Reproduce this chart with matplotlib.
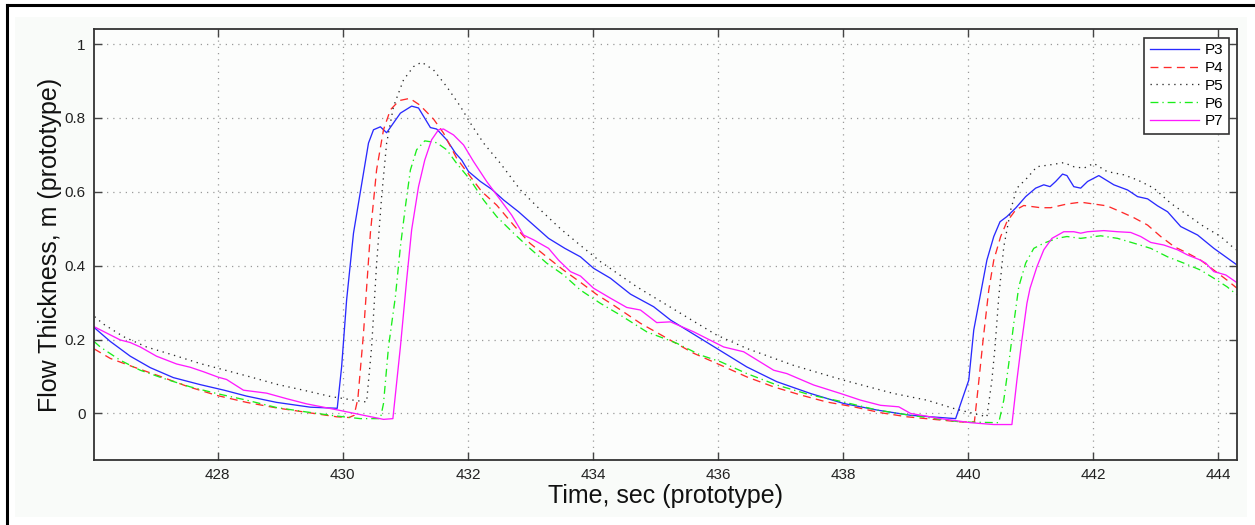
import matplotlib
matplotlib.use("Agg")
import matplotlib.pyplot as plt
from matplotlib.lines import Line2D
from matplotlib.patches import Rectangle

plt.rcParams['font.family'] = ['Liberation Sans', 'DejaVu Sans']

# ---> data (time in s, thickness in m)
t_p3 = [426.02, 426.28, 426.60, 426.92, 427.29, 427.72, 428.10, 428.46, 428.94, 429.48,
        429.91, 429.98, 430.06, 430.17, 430.28, 430.41, 430.49, 430.60, 430.70, 430.92,
        431.10, 431.21, 431.40, 431.50, 431.66, 431.80, 431.90, 432.01, 432.20, 432.38,
        432.57, 432.81, 433.05, 433.29, 433.55, 433.80, 434.01, 434.28, 434.60, 434.97,
        435.24, 435.50, 435.98, 436.46, 436.94, 437.48, 438.01, 438.55, 439.08, 439.80,
        439.90, 440.01, 440.09, 440.20, 440.30, 440.41, 440.51, 440.62, 440.76, 440.92,
        441.08, 441.21, 441.31, 441.40, 441.51, 441.58, 441.69, 441.80, 441.91, 442.09,
        442.33, 442.55, 442.71, 442.87, 443.03, 443.19, 443.40, 443.67, 443.93, 444.30]
p3 = [0.233, 0.195, 0.155, 0.124, 0.097, 0.078, 0.063, 0.047, 0.030, 0.017,
      0.014, 0.126, 0.307, 0.488, 0.600, 0.732, 0.768, 0.776, 0.760, 0.813,
      0.832, 0.827, 0.774, 0.770, 0.741, 0.705, 0.686, 0.655, 0.628, 0.607,
      0.578, 0.546, 0.510, 0.474, 0.447, 0.424, 0.393, 0.366, 0.323, 0.289,
      0.253, 0.226, 0.176, 0.126, 0.086, 0.054, 0.027, 0.009, -0.005, -0.014,
      0.036, 0.090, 0.226, 0.325, 0.415, 0.479, 0.519, 0.533, 0.556, 0.587,
      0.610, 0.619, 0.614, 0.628, 0.648, 0.644, 0.614, 0.610, 0.628, 0.644,
      0.619, 0.605, 0.587, 0.581, 0.562, 0.546, 0.506, 0.483, 0.447, 0.402]

t_p4 = [426.02, 426.28, 426.65, 427.02, 427.50, 427.98, 428.46, 428.94, 429.42, 429.90,
        430.10, 430.18, 430.24, 430.33, 430.44, 430.54, 430.65, 430.76, 430.90, 431.07,
        431.23, 431.45, 431.61, 431.82, 432.04, 432.22, 432.46, 432.73, 432.99, 433.26,
        433.53, 433.80, 434.06, 434.33, 434.76, 435.19, 435.61, 436.04, 436.46, 436.89,
        437.32, 437.74, 438.17, 438.60, 439.02, 439.45, 439.88, 440.10, 440.16, 440.24,
        440.33, 440.41, 440.52, 440.62, 440.76, 440.89, 441.16, 441.32, 441.58, 441.80,
        442.01, 442.22, 442.44, 442.65, 442.87, 443.08, 443.30, 443.51, 443.72, 443.93,
        444.14, 444.30]
p4 = [0.175, 0.149, 0.126, 0.104, 0.074, 0.049, 0.030, 0.015, 0.003, -0.009,
      -0.011, -0.005, 0.040, 0.217, 0.488, 0.660, 0.768, 0.822, 0.847, 0.853,
      0.835, 0.797, 0.759, 0.691, 0.641, 0.601, 0.564, 0.510, 0.461, 0.424,
      0.388, 0.355, 0.322, 0.293, 0.244, 0.203, 0.163, 0.131, 0.099, 0.072,
      0.050, 0.031, 0.018, 0.002, -0.009, -0.016, -0.023, -0.023, 0.070, 0.200,
      0.334, 0.415, 0.479, 0.519, 0.551, 0.563, 0.557, 0.557, 0.567, 0.572,
      0.567, 0.562, 0.546, 0.530, 0.510, 0.479, 0.451, 0.434, 0.415, 0.388,
      0.361, 0.339]

t_p5 = [426.03, 426.17, 426.49, 426.86, 427.29, 427.72, 428.10, 428.52, 428.94, 429.37,
        429.80, 430.17, 430.38, 430.46, 430.54, 430.62, 430.70, 430.81, 430.97, 431.13,
        431.26, 431.45, 431.66, 431.88, 432.04, 432.25, 432.52, 432.84, 433.16, 433.48,
        433.80, 434.12, 434.70, 435.45, 435.98, 436.46, 437.21, 438.01, 438.81, 439.34,
        439.80, 440.30, 440.38, 440.43, 440.49, 440.57, 440.68, 440.78, 440.94, 441.10,
        441.31, 441.53, 441.69, 441.85, 442.01, 442.22, 442.49, 442.71, 442.97, 443.24,
        443.51, 443.77, 444.04, 444.28]
p5 = [0.262, 0.242, 0.208, 0.180, 0.158, 0.135, 0.118, 0.099, 0.079, 0.063,
      0.046, 0.036, 0.031, 0.180, 0.406, 0.587, 0.732, 0.831, 0.903, 0.939,
      0.951, 0.930, 0.885, 0.831, 0.786, 0.732, 0.677, 0.605, 0.551, 0.500,
      0.455, 0.411, 0.343, 0.266, 0.212, 0.176, 0.130, 0.090, 0.054, 0.036,
      0.012, -0.009, 0.090, 0.180, 0.316, 0.451, 0.551, 0.610, 0.637, 0.668,
      0.673, 0.679, 0.668, 0.664, 0.677, 0.655, 0.646, 0.632, 0.610, 0.569,
      0.537, 0.506, 0.479, 0.443]

t_p6 = [426.02, 426.12, 426.44, 426.76, 427.13, 427.56, 427.98, 428.46, 428.94, 429.42,
        429.90, 430.28, 430.60, 430.65, 430.73, 430.84, 430.92, 431.00, 431.08, 431.18,
        431.31, 431.50, 431.66, 431.82, 432.04, 432.25, 432.46, 432.73, 432.99, 433.26,
        433.53, 433.80, 434.12, 434.44, 434.86, 435.34, 435.72, 436.04, 436.46, 436.94,
        437.48, 438.01, 438.55, 439.08, 439.88, 440.49, 440.57, 440.65, 440.73, 440.81,
        440.92, 441.05, 441.21, 441.42, 441.58, 441.80, 442.12, 442.39, 442.65, 442.92,
        443.19, 443.45, 443.72, 443.93, 444.14, 444.30]
p6 = [0.195, 0.180, 0.144, 0.117, 0.095, 0.072, 0.054, 0.036, 0.016, 0.004,
      -0.007, -0.014, -0.014, 0.027, 0.180, 0.316, 0.451, 0.560, 0.659, 0.714,
      0.738, 0.733, 0.714, 0.677, 0.632, 0.578, 0.533, 0.488, 0.447, 0.407,
      0.375, 0.334, 0.298, 0.266, 0.221, 0.190, 0.158, 0.140, 0.108, 0.077,
      0.050, 0.031, 0.009, -0.005, -0.023, -0.025, 0.036, 0.135, 0.244, 0.343,
      0.407, 0.447, 0.461, 0.474, 0.479, 0.474, 0.481, 0.474, 0.461, 0.447,
      0.424, 0.407, 0.388, 0.366, 0.343, 0.321]

t_p7 = [426.02, 426.44, 426.60, 426.76, 427.02, 427.34, 427.56, 427.77, 428.01, 428.14,
        428.41, 428.78, 429.10, 429.42, 429.90, 430.65, 430.80, 430.92, 431.02, 431.10,
        431.21, 431.31, 431.42, 431.53, 431.61, 431.77, 431.93, 432.09, 432.30, 432.52,
        432.70, 432.89, 433.05, 433.29, 433.45, 433.64, 433.80, 434.01, 434.28, 434.54,
        434.76, 435.02, 435.24, 435.61, 436.09, 436.41, 436.89, 437.10, 437.53, 437.96,
        438.28, 438.60, 438.89, 439.08, 439.56, 440.04, 440.41, 440.70, 440.78, 440.86,
        440.94, 440.99, 441.10, 441.21, 441.34, 441.53, 441.69, 441.80, 441.91, 442.17,
        442.39, 442.60, 442.76, 442.92, 443.13, 443.35, 443.51, 443.69, 443.80, 443.93,
        444.12, 444.30]
p7 = [0.235, 0.199, 0.192, 0.180, 0.155, 0.134, 0.125, 0.113, 0.098, 0.092,
      0.063, 0.055, 0.040, 0.026, 0.010, -0.016, -0.014, 0.180, 0.361, 0.497,
      0.614, 0.686, 0.741, 0.768, 0.770, 0.754, 0.727, 0.682, 0.628, 0.578,
      0.537, 0.483, 0.470, 0.447, 0.415, 0.384, 0.372, 0.339, 0.312, 0.287,
      0.280, 0.246, 0.248, 0.221, 0.180, 0.167, 0.117, 0.108, 0.077, 0.054,
      0.036, 0.022, 0.018, 0.000, -0.014, -0.025, -0.030, -0.030, 0.090, 0.199,
      0.298, 0.339, 0.397, 0.443, 0.474, 0.492, 0.492, 0.488, 0.492, 0.495,
      0.492, 0.490, 0.479, 0.463, 0.456, 0.443, 0.429, 0.417, 0.407, 0.384,
      0.375, 0.354]

xticks = [428, 430, 432, 434, 436, 438, 440, 442, 444]
yticks = [0, 0.2, 0.4, 0.6, 0.8, 1]
ytick_labels = ['0', '0.2', '0.4', '0.6', '0.8', '1']

fig = plt.figure(figsize=(12.55, 5.25), dpi=100)
fig.patch.set_facecolor('white')
# ---> matlab-ish window frame
fig.add_artist(Rectangle((15 / 1255, 1 - 517 / 525), (1247 - 15) / 1255, (517 - 17) / 525,
                         transform=fig.transFigure, facecolor='#f9fbf9', edgecolor='none', zorder=0))
fig.add_artist(Line2D([7 / 1255, 7 / 1255], [0, 1 - 5 / 525], transform=fig.transFigure,
                      color='black', lw=2.2))
fig.add_artist(Line2D([7 / 1255, 1], [1 - 5 / 525, 1 - 5 / 525], transform=fig.transFigure,
                      color='black', lw=2.2))

ax = fig.add_axes([94 / 1255, 1 - 460 / 525, (1237 - 94) / 1255, (460 - 29.3) / 525])
ax.set_facecolor('#fcfdfc')

lw = 0.95
ax.plot(t_p3, p3, color='#2a2aff', lw=lw, label='P3')
ax.plot(t_p4, p4, color='#ff2a2a', lw=lw, linestyle=(0, (6, 4)), label='P4')
ax.plot(t_p5, p5, color='#2a2a2a', lw=lw, linestyle=(0, (1, 3.5)), label='P5')
ax.plot(t_p6, p6, color='#1aee1a', lw=lw, linestyle=(0, (6, 3, 1, 3)), label='P6')
ax.plot(t_p7, p7, color='#ff1aff', lw=lw, label='P7')

ax.set_xlim(426.02, 444.3)
ax.set_ylim(-0.126, 1.04)
ax.set_xticks(xticks)
ax.set_xticklabels([str(v) for v in xticks])
ax.set_yticks(yticks)
ax.set_yticklabels(ytick_labels)

ax.grid(True, color='#9a9a9a', linestyle=(0, (1, 4)), lw=0.9)
ax.tick_params(direction='in', length=6, width=1, color='#444444',
               top=True, right=True, labelsize=11, pad=6, labelcolor='#222222')
for s in ax.spines.values():
    s.set_color('#333333')
    s.set_linewidth(1.3)

ax.set_xlabel('Time, sec (prototype)', fontsize=18, labelpad=1, color='#111111')
ax.set_ylabel('Flow Thickness, m (prototype)', fontsize=18, labelpad=2, color='#111111')

leg = ax.legend(loc='upper right', fontsize=11, frameon=True, fancybox=False,
                borderaxespad=0.55, handlelength=3.2, labelspacing=0.25,
                handletextpad=0.4, borderpad=0.35)
leg.get_frame().set_edgecolor('#333333')
leg.get_frame().set_linewidth(1.2)
leg.get_frame().set_facecolor('white')
leg.get_frame().set_alpha(1)

fig.savefig('out.png', dpi=100, facecolor=fig.get_facecolor())
